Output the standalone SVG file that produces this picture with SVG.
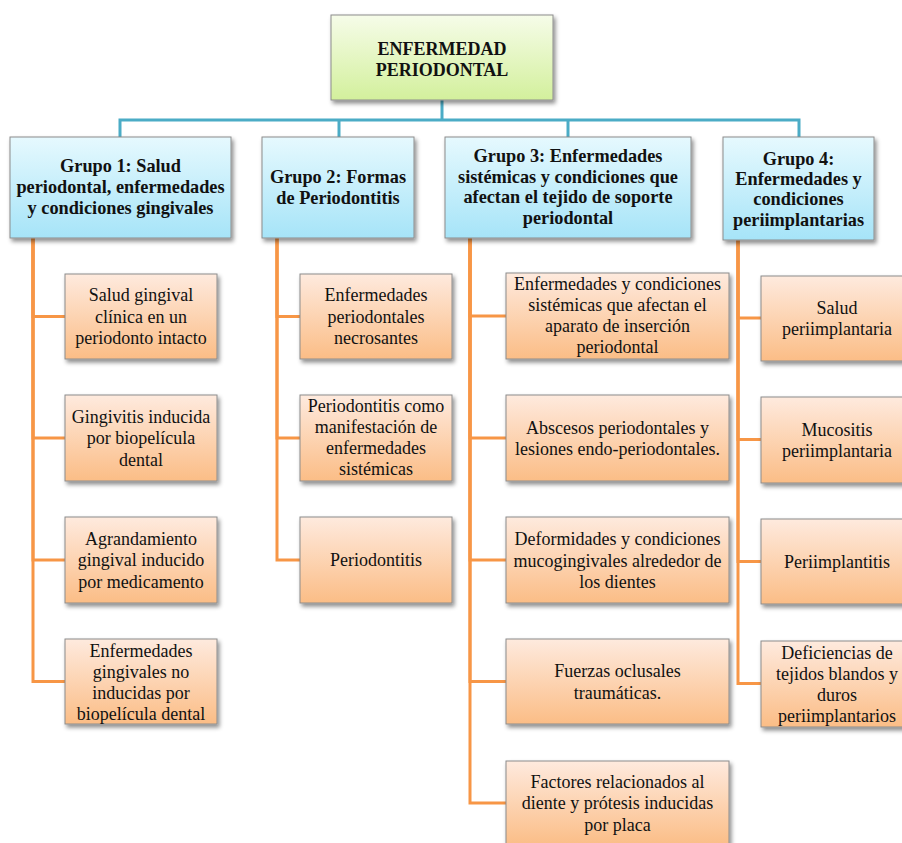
<svg xmlns="http://www.w3.org/2000/svg" width="902" height="843" viewBox="0 0 902 843">
<defs>
  <linearGradient id="gTop" x1="0" y1="0" x2="0" y2="1">
    <stop offset="0" stop-color="#f6fce9"/>
    <stop offset="1" stop-color="#d3f09c"/>
  </linearGradient>
  <linearGradient id="gBlue" x1="0" y1="0" x2="0" y2="1">
    <stop offset="0" stop-color="#e6f9fe"/>
    <stop offset="1" stop-color="#a6e4f8"/>
  </linearGradient>
  <linearGradient id="gPeach" x1="0" y1="0" x2="0" y2="1">
    <stop offset="0" stop-color="#feeade"/>
    <stop offset="1" stop-color="#fbbd86"/>
  </linearGradient>
  <filter id="sh" x="-10%" y="-10%" width="125%" height="130%">
    <feDropShadow dx="2" dy="3" stdDeviation="2" flood-color="#000" flood-opacity="0.45"/>
  </filter>
</defs>
<style>
  .top { fill: url(#gTop); stroke: #8c8c8c; stroke-width: 1; filter: url(#sh); }
  .grp { fill: url(#gBlue); stroke: #8c8c8c; stroke-width: 1; filter: url(#sh); }
  .leaf { fill: url(#gPeach); stroke: #8c8c8c; stroke-width: 1; filter: url(#sh); }
  .bl { fill: none; stroke: #4bacc6; stroke-width: 3; }
  .or { fill: none; stroke: #f79646; stroke-width: 3; }
  text { font-family: "Liberation Serif", "Times New Roman", serif; fill: #111; text-anchor: middle; }
  .tb { font-size: 18px; font-weight: bold; }
  .gb { font-size: 18.3px; font-weight: bold; }
  .lt { font-size: 18px; }
</style>

<g id="connectors">
  <path class="bl" d="M442,100 V120"/>
  <path class="bl" d="M120,137 V120 H799 V137"/>
  <path class="bl" d="M339,120 V137"/>
  <path class="bl" d="M568,120 V137"/>

  <path class="or" d="M33,238 V316.5 H65"/>
  <path class="or" d="M33,238 V438 H65"/>
  <path class="or" d="M33,238 V560 H65"/>
  <path class="or" d="M33,238 V681.5 H65"/>

  <path class="or" d="M277,238 V316.5 H300"/>
  <path class="or" d="M277,238 V438 H300"/>
  <path class="or" d="M277,238 V560 H300"/>

  <path class="or" d="M470,238 V316 H506"/>
  <path class="or" d="M470,238 V438 H506"/>
  <path class="or" d="M470,238 V560 H506"/>
  <path class="or" d="M470,238 V681.5 H506"/>
  <path class="or" d="M470,238 V803 H506"/>

  <path class="or" d="M738,240 V318 H761"/>
  <path class="or" d="M738,240 V439.5 H761"/>
  <path class="or" d="M738,240 V561.5 H761"/>
  <path class="or" d="M738,240 V683.5 H761"/>
</g>

<g id="root">
  <rect class="top" x="331" y="15" width="222" height="85"/>
  <text class="tb" x="442" y="55">ENFERMEDAD</text>
  <text class="tb" x="442" y="76">PERIODONTAL</text>
</g>

<g id="grupo1">
  <rect class="grp" x="10" y="137" width="221" height="101"/>
  <text class="gb" x="120.5" y="172">Grupo 1: Salud</text>
  <text class="gb" x="120.5" y="193">periodontal, enfermedades</text>
  <text class="gb" x="120.5" y="214">y condiciones gingivales</text>
</g>
<g id="grupo2">
  <rect class="grp" x="262" y="137" width="152" height="101"/>
  <text class="gb" x="338" y="183">Grupo 2: Formas</text>
  <text class="gb" x="338" y="204">de Periodontitis</text>
</g>
<g id="grupo3">
  <rect class="grp" x="445" y="137" width="246" height="101"/>
  <text class="gb" x="568" y="162">Grupo 3: Enfermedades</text>
  <text class="gb" x="568" y="183">sistémicas y condiciones que</text>
  <text class="gb" x="568" y="203">afectan el tejido de soporte</text>
  <text class="gb" x="568" y="224">periodontal</text>
</g>
<g id="grupo4">
  <rect class="grp" x="723" y="137" width="151" height="103"/>
  <text class="gb" x="798.5" y="165">Grupo 4:</text>
  <text class="gb" x="798.5" y="185">Enfermedades y</text>
  <text class="gb" x="798.5" y="205">condiciones</text>
  <text class="gb" x="798.5" y="226">periimplantarias</text>
</g>

<g id="g1n1">
  <rect class="leaf" x="65" y="274" width="152" height="85"/>
  <text class="lt" x="141" y="301">Salud gingival</text>
  <text class="lt" x="141" y="322.5">clínica en un</text>
  <text class="lt" x="141" y="344">periodonto intacto</text>
</g>
<g id="g1n2">
  <rect class="leaf" x="65" y="395" width="152" height="86"/>
  <text class="lt" x="141" y="422.5">Gingivitis inducida</text>
  <text class="lt" x="141" y="444">por biopelícula</text>
  <text class="lt" x="141" y="465.5">dental</text>
</g>
<g id="g1n3">
  <rect class="leaf" x="65" y="517" width="152" height="86"/>
  <text class="lt" x="141" y="544.5">Agrandamiento</text>
  <text class="lt" x="141" y="566">gingival inducido</text>
  <text class="lt" x="141" y="587.5">por medicamento</text>
</g>
<g id="g1n4">
  <rect class="leaf" x="65" y="639" width="152" height="85"/>
  <text class="lt" x="141" y="657">Enfermedades</text>
  <text class="lt" x="141" y="678">gingivales no</text>
  <text class="lt" x="141" y="699">inducidas por</text>
  <text class="lt" x="141" y="720">biopelícula dental</text>
</g>

<g id="g2n1">
  <rect class="leaf" x="300" y="274" width="152" height="85"/>
  <text class="lt" x="376" y="301">Enfermedades</text>
  <text class="lt" x="376" y="322.5">periodontales</text>
  <text class="lt" x="376" y="344">necrosantes</text>
</g>
<g id="g2n2">
  <rect class="leaf" x="300" y="395" width="152" height="86"/>
  <text class="lt" x="376" y="412">Periodontitis como</text>
  <text class="lt" x="376" y="433">manifestación de</text>
  <text class="lt" x="376" y="454">enfermedades</text>
  <text class="lt" x="376" y="475">sistémicas</text>
</g>
<g id="g2n3">
  <rect class="leaf" x="300" y="517" width="152" height="86"/>
  <text class="lt" x="376" y="566">Periodontitis</text>
</g>

<g id="g3n1">
  <rect class="leaf" x="506" y="273" width="223" height="86"/>
  <text class="lt" x="617.5" y="290">Enfermedades y condiciones</text>
  <text class="lt" x="617.5" y="311">sistémicas que afectan el</text>
  <text class="lt" x="617.5" y="332">aparato de inserción</text>
  <text class="lt" x="617.5" y="353">periodontal</text>
</g>
<g id="g3n2">
  <rect class="leaf" x="506" y="395" width="223" height="86"/>
  <text class="lt" x="617.5" y="433.5">Abscesos periodontales y</text>
  <text class="lt" x="617.5" y="455">lesiones endo-periodontales.</text>
</g>
<g id="g3n3">
  <rect class="leaf" x="506" y="517" width="223" height="86"/>
  <text class="lt" x="617.5" y="545">Deformidades y condiciones</text>
  <text class="lt" x="617.5" y="566.5">mucogingivales alrededor de</text>
  <text class="lt" x="617.5" y="588">los dientes</text>
</g>
<g id="g3n4">
  <rect class="leaf" x="506" y="639" width="223" height="85"/>
  <text class="lt" x="617.5" y="677">Fuerzas oclusales</text>
  <text class="lt" x="617.5" y="698.5">traumáticas.</text>
</g>
<g id="g3n5">
  <rect class="leaf" x="506" y="761" width="223" height="85"/>
  <text class="lt" x="617.5" y="787.5">Factores relacionados al</text>
  <text class="lt" x="617.5" y="809">diente y prótesis inducidas</text>
  <text class="lt" x="617.5" y="830.5">por placa</text>
</g>

<g id="g4n1">
  <rect class="leaf" x="761" y="276" width="152" height="85"/>
  <text class="lt" x="837" y="313.5">Salud</text>
  <text class="lt" x="837" y="335">periimplantaria</text>
</g>
<g id="g4n2">
  <rect class="leaf" x="761" y="397" width="152" height="86"/>
  <text class="lt" x="837" y="435.5">Mucositis</text>
  <text class="lt" x="837" y="457">periimplantaria</text>
</g>
<g id="g4n3">
  <rect class="leaf" x="761" y="519" width="152" height="85"/>
  <text class="lt" x="837" y="567.5">Periimplantitis</text>
</g>
<g id="g4n4">
  <rect class="leaf" x="761" y="641" width="152" height="86"/>
  <text class="lt" x="837" y="658.5">Deficiencias de</text>
  <text class="lt" x="837" y="679.5">tejidos blandos y</text>
  <text class="lt" x="837" y="700.5">duros</text>
  <text class="lt" x="837" y="721.5">periimplantarios</text>
</g>
</svg>
